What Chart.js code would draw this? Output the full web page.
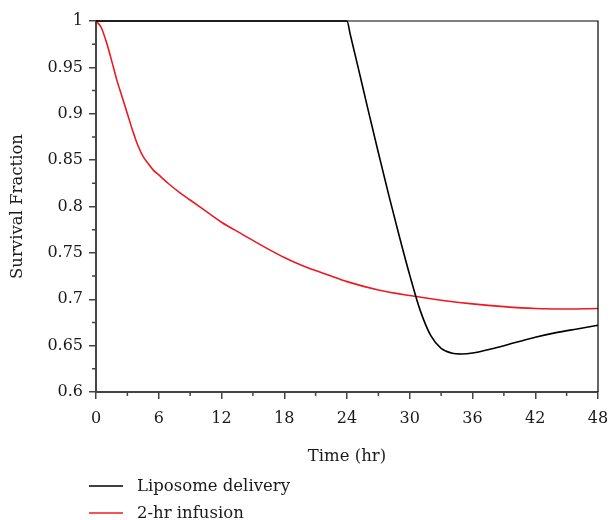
<!DOCTYPE html>
<html>
<head>
<meta charset="utf-8">
<script src="https://cdn.jsdelivr.net/npm/chart.js@4"></script>
<style>
  body { margin: 0; background: #fff; }
  #wrap { width: 611px; height: 520px; }
</style>
</head>
<body>
<div id="wrap"><canvas id="myChart"></canvas></div>
<script>
const seriesNames = ['Liposome delivery', '2-hr infusion'];

const liposomeTime = [0, 24, 24.3, 25, 26, 27, 28, 29, 30, 31, 32, 33, 34, 35, 36, 38, 40, 42, 44, 46, 48];
const liposomeSurvival = [1, 1, 0.986, 0.953, 0.905, 0.858, 0.812, 0.768, 0.726, 0.688, 0.661, 0.647, 0.642, 0.641, 0.642, 0.647, 0.653, 0.659, 0.664, 0.668, 0.672];

const infusionTime = [0, 0.5, 1, 1.5, 2, 2.5, 3, 3.5, 4, 4.5, 5, 5.5, 6, 7, 8, 9, 10, 12, 14, 16, 18, 20, 22, 24, 27, 30, 33, 36, 39, 42, 45, 48];
const infusionSurvival = [1, 0.993, 0.977, 0.957, 0.936, 0.918, 0.9, 0.882, 0.866, 0.854, 0.846, 0.839, 0.834, 0.824, 0.815, 0.807, 0.799, 0.783, 0.77, 0.757, 0.745, 0.735, 0.727, 0.719, 0.71, 0.704, 0.699, 0.695, 0.692, 0.69, 0.6895, 0.69];

const xTicks = [0, 6, 12, 18, 24, 30, 36, 42, 48];
const yTicks = [0.6, 0.65, 0.7, 0.75, 0.8, 0.85, 0.9, 0.95, 1];

const lineColors = ['#000000', 'rgb(238, 24, 32)'];

Chart.defaults.font.family = '"DejaVu Serif", serif';
Chart.defaults.font.size = 16;
Chart.defaults.color = '#1a1a1a';

const toPoints = (xs, ys) => xs.map((x, i) => ({ x: x, y: ys[i] }));

// frame on top/right, minor ticks, and a stacked legend under the axis title
const extras = {
  id: 'extras',
  afterDraw(chart) {
    const ctx = chart.ctx;
    const area = chart.chartArea;
    const xs = chart.scales.x;
    const ys = chart.scales.y;
    ctx.save();
    ctx.strokeStyle = '#000';
    ctx.lineWidth = 1.2;
    ctx.beginPath();
    ctx.moveTo(area.left, area.top);
    ctx.lineTo(area.right, area.top);
    ctx.lineTo(area.right, area.bottom);
    ctx.stroke();

    ctx.strokeStyle = '#444';
    ctx.lineWidth = 1.5;
    ctx.beginPath();
    for (let i = 0; i < yTicks.length - 1; i++) {
      const py = ys.getPixelForValue((yTicks[i] + yTicks[i + 1]) / 2);
      ctx.moveTo(area.left - 4, py);
      ctx.lineTo(area.left, py);
    }
    for (let i = 0; i < xTicks.length - 1; i++) {
      const px = xs.getPixelForValue((xTicks[i] + xTicks[i + 1]) / 2);
      ctx.moveTo(px, area.bottom);
      ctx.lineTo(px, area.bottom + 4);
    }
    ctx.stroke();

    ctx.font = '16.5px "DejaVu Serif", serif';
    ctx.textBaseline = 'middle';
    ctx.fillStyle = '#1a1a1a';
    chart.data.datasets.forEach((ds, i) => {
      const ly = 486 + i * 27;
      ctx.strokeStyle = ds.borderColor;
      ctx.lineWidth = 1.5;
      ctx.beginPath();
      ctx.moveTo(89, ly);
      ctx.lineTo(123, ly);
      ctx.stroke();
      ctx.fillText(ds.label, 137, ly + 1);
    });
    ctx.restore();
  }
};

const data = {
  datasets: [{
    label: seriesNames[0],
    data: toPoints(liposomeTime, liposomeSurvival),
    borderColor: lineColors[0],
    borderWidth: 1.6,
    pointRadius: 0,
    cubicInterpolationMode: 'monotone',
    clip: 3,
  }, {
    label: seriesNames[1],
    data: toPoints(infusionTime, infusionSurvival),
    borderColor: lineColors[1],
    borderWidth: 1.6,
    pointRadius: 0,
    cubicInterpolationMode: 'monotone',
    clip: 3,
  }]
};

const config = {
  type: 'line',
  data: data,
  options: {
    responsive: true,
    maintainAspectRatio: false,
    animation: false,
    layout: { padding: { top: 21, right: 13, left: 0, bottom: 52 } },
    plugins: {
      legend: { display: false },
      tooltip: { enabled: false },
    },
    scales: {
      x: {
        type: 'linear',
        min: 0,
        max: 48,
        afterBuildTicks: (scale) => { scale.ticks = xTicks.map(v => ({ value: v })); },
        afterFit: (scale) => {
          scale.height = 76;
          scale.paddingLeft = 0;
          scale.paddingRight = 0;
        },
        grid: { drawOnChartArea: false, tickLength: 7, color: '#444', lineWidth: 1.5 },
        border: { color: '#444', width: 2 },
        ticks: { padding: 10, maxRotation: 0 },
        title: { display: true, text: 'Time (hr)', font: { size: 16.5 }, padding: { top: 0, bottom: 1 } },
      },
      y: {
        min: 0.6,
        max: 1,
        afterBuildTicks: (scale) => { scale.ticks = yTicks.map(v => ({ value: v })); },
        afterFit: (scale) => { scale.width = 96; },
        grid: { drawOnChartArea: false, tickLength: 7, color: '#444', lineWidth: 1.5 },
        border: { color: '#444', width: 2 },
        ticks: { padding: 6, callback: (v) => String(+v.toFixed(2)) },
        title: { display: true, text: 'Survival Fraction', font: { size: 16.5 }, padding: { top: 8, bottom: 0 } },
      },
    },
  },
  plugins: [extras],
};

const myChart = new Chart(
  document.getElementById('myChart'),
  config
);
</script>
</body>
</html>
